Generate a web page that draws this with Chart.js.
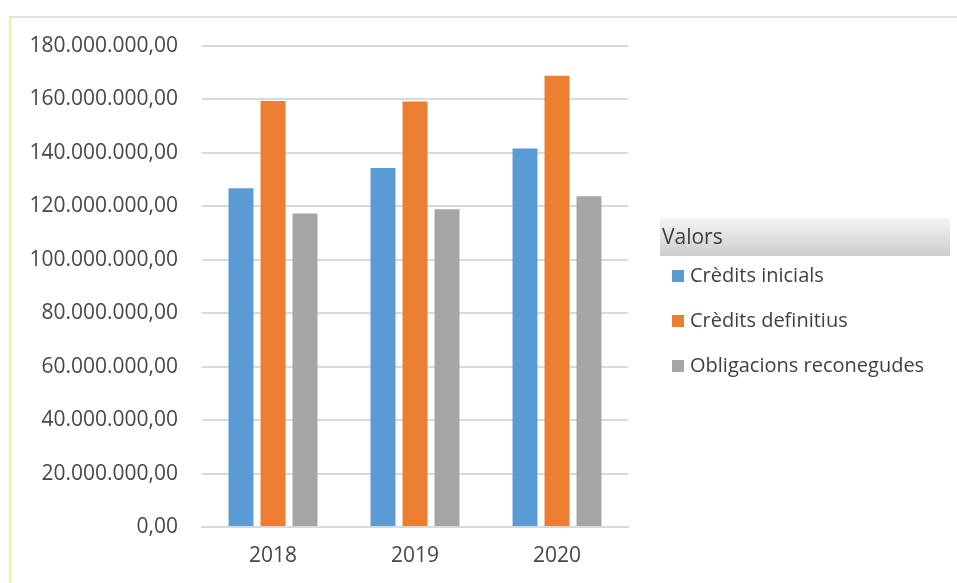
<!DOCTYPE html>
<html>
<head>
<meta charset="utf-8">
<script src="https://cdn.jsdelivr.net/npm/chart.js@4.4.1/dist/chart.umd.min.js"></script>
<style>
  html, body { margin: 0; padding: 0; background: #fff; }
  #wrap { position: relative; width: 957px; height: 583px; }
  #frame { position: absolute; left: 9px; top: 16px; right: 0; bottom: 0;
           border-top: 2px solid #e3e3e3; border-left: 2px solid #f7ee9c; }
  #barchart { position: absolute; left: 0; top: 0; }
</style>
</head>
<body>
<div id="wrap">
  <div id="frame"></div>
  <canvas id="barchart" width="957" height="583"></canvas>
</div>
<script>
// Pressupost - Bar chart
const years = ["2018", "2019", "2020"];
const creditsInicials = [126.8e6, 134.3e6, 141.6e6];
const creditsDefinitius = [159.4e6, 159.2e6, 168.9e6];
const obligacionsReconegudes = [117.3e6, 118.9e6, 123.8e6];
const legendTitle = "Valors";

// 180000000 -> "180.000.000,00"
function formatCa(v) {
  const parts = Math.round(v).toString().replace(/\B(?=(\d{3})+(?!\d))/g, ".");
  return parts + ",00";
}

const textColor = "#474747";
const gridColor = "#d9d9d9";

// draws the legend box on the right, Excel style
const sideLegend = {
  id: "sideLegend",
  afterDraw(chart) {
    const ctx = chart.ctx;
    ctx.save();
    const grad = ctx.createLinearGradient(0, 218, 0, 256);
    grad.addColorStop(0, "#f4f4f4");
    grad.addColorStop(1, "#cdcdcd");
    ctx.fillStyle = grad;
    ctx.fillRect(660, 218, 290, 38);
    ctx.fillStyle = "#404040";
    ctx.font = "21px 'Open Sans'";
    ctx.textBaseline = "middle";
    ctx.fillText(legendTitle, 662, 238);
    ctx.font = "20px 'Open Sans'";
    chart.data.datasets.forEach((ds, i) => {
      const y = 276 + i * 45;
      ctx.fillStyle = ds.backgroundColor;
      ctx.fillRect(672, y - 6, 12, 12);
      ctx.fillStyle = "#404040";
      ctx.fillText(ds.label, 690, y);
    });
    ctx.restore();
  },
};

new Chart(document.getElementById("barchart"), {
  type: "bar",
  data: {
    labels: years,
    datasets: [
      { label: "Crèdits inicials", data: creditsInicials, backgroundColor: "#5b9bd5" },
      { label: "Crèdits definitius", data: creditsDefinitius, backgroundColor: "#ed7d31" },
      { label: "Obligacions reconegudes", data: obligacionsReconegudes, backgroundColor: "#a5a5a5" },
    ],
  },
  options: {
    responsive: false,
    animation: false,
    categoryPercentage: 0.676,
    barPercentage: 0.78,
    layout: { padding: { left: 0, top: 46, right: 329, bottom: 0 } },
    plugins: {
      legend: { display: false },
      tooltip: { enabled: false },
    },
    scales: {
      x: {
        grid: { display: false, drawTicks: false },
        border: { color: gridColor, width: 2 },
        ticks: { color: textColor, font: { family: "Open Sans", size: 21 }, padding: 16 },
        afterFit(scale) { scale.height = 56; },
      },
      y: {
        min: 0,
        max: 180e6,
        grid: { color: gridColor, lineWidth: 2, drawTicks: false },
        border: { display: false },
        ticks: {
          stepSize: 20e6,
          color: textColor,
          font: { family: "Open Sans", size: 21 },
          padding: 24,
          callback: (v) => formatCa(v),
        },
        afterFit(scale) { scale.width = 202; },
      },
    },
  },
  plugins: [sideLegend],
});
// Pressupost - Bar chart
</script>
</body>
</html>
